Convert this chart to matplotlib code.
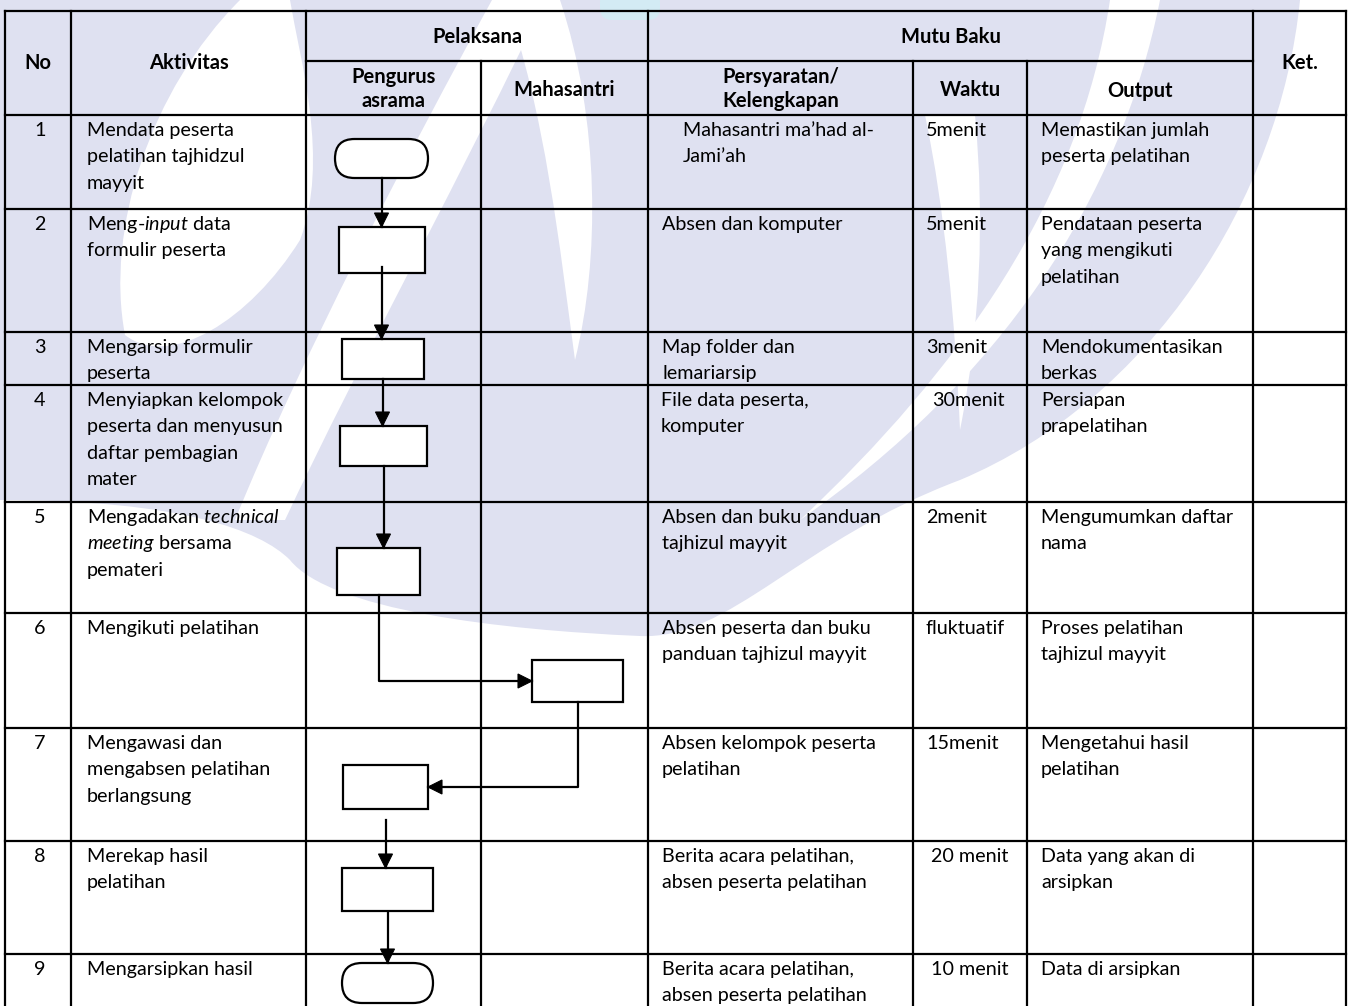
import matplotlib.pyplot as plt
from matplotlib.patches import Rectangle, FancyBboxPatch, Polygon, PathPatch
from matplotlib.path import Path

plt.rcParams['font.family'] = ['Lato', 'DejaVu Sans']
plt.rcParams['mathtext.fontset'] = 'custom'
plt.rcParams['mathtext.rm'] = 'Lato'
plt.rcParams['mathtext.it'] = 'Lato:italic'

# ---- isi tabel ----
nomor = ['1', '2', '3', '4', '5', '6', '7', '8', '9']
aktivitas = [
    'Mendata peserta\npelatihan tajhidzul\nmayyit',
    'Meng-$\\mathit{input}$ data\nformulir peserta',
    'Mengarsip formulir\npeserta',
    'Menyiapkan kelompok\npeserta dan menyusun\ndaftar pembagian\nmater',
    'Mengadakan $\\mathit{technical}$\n$\\mathit{meeting}$ bersama\npemateri',
    'Mengikuti pelatihan',
    'Mengawasi dan\nmengabsen pelatihan\nberlangsung',
    'Merekap hasil\npelatihan',
    'Mengarsipkan hasil',
]
persyaratan = [
    'Mahasantri ma\u2019had al-\nJami\u2019ah',
    'Absen dan komputer',
    'Map folder dan\nlemariarsip',
    'File data peserta,\nkomputer',
    'Absen dan buku panduan\ntajhizul mayyit',
    'Absen peserta dan buku\npanduan tajhizul mayyit',
    'Absen kelompok peserta\npelatihan',
    'Berita acara pelatihan,\nabsen peserta pelatihan',
    'Berita acara pelatihan,\nabsen peserta pelatihan',
]
waktu = ['5menit', '5menit', '3menit', '30menit', '2menit', 'fluktuatif',
         '15menit', '20 menit', '10 menit']
output = [
    'Memastikan jumlah\npeserta pelatihan',
    'Pendataan peserta\nyang mengikuti\npelatihan',
    'Mendokumentasikan\nberkas',
    'Persiapan\nprapelatihan',
    'Mengumumkan daftar\nnama',
    'Proses pelatihan\ntajhizul mayyit',
    'Mengetahui hasil\npelatihan',
    'Data yang akan di\narsipkan',
    'Data di arsipkan',
]
pelaksana = ['Pengurus', 'Pengurus', 'Pengurus', 'Pengurus', 'Pengurus',
             'Mahasantri', 'Pengurus', 'Pengurus', 'Pengurus']
simbol = ['terminator', 'proses', 'proses', 'proses', 'proses',
          'proses', 'proses', 'proses', 'terminator']

# ---- tata letak (piksel) ----
W, H = 1350, 1006
col_x = [5, 71, 306, 481, 648, 913, 1027, 1253, 1346]
head_y = [11, 61, 115]
row_y = [115, 209, 332, 385, 502, 613, 728, 841, 954, H]
lane_idx = {'Pengurus': 2, 'Mahasantri': 3}
# posisi simbol: (geser x dari tengah lajur, geser y dari atas baris, lebar, tinggi)
kotak = [(-12, 24, 93, 39), (-12, 18, 86, 46), (-11, 7, 82, 40), (-10, 41, 87, 40),
         (-15, 46, 83, 47), (13, 47, 91, 42), (-8, 37, 85, 44), (-6, 27, 91, 43),
         (-6, 9, 91, 40)]
gap_mulai = [0, 0, -6, 0, 0, 0, 0, 11, 2]
x_waktu = [926, 926, 926, 932, 926, 926, 926, 931, 931]
x_syarat = [683, 662, 662, 661, 662, 662, 662, 662, 662]
fs = 14.2
fs_head = 14.5
lw = 1.6
line_h = 26.3
ungu = '#dfe1f1'

fig = plt.figure(figsize=(W / 100, H / 100), dpi=100)
ax = fig.add_axes([0, 0, 1, 1])
ax.set_xlim(0, W)
ax.set_ylim(H, 0)
ax.axis('off')

# ---- watermark samar ----
def bentuk(pts, color, z=0):
    verts = [pts[0]]
    codes = [Path.MOVETO]
    for seg in pts[1:]:
        if len(seg) == 2 and not isinstance(seg[0], tuple):
            verts.append(seg)
            codes.append(Path.LINETO)
        else:
            verts.extend(seg)
            codes.extend([Path.CURVE4] * 3)
    verts.append(pts[0])
    codes.append(Path.CLOSEPOLY)
    ax.add_patch(PathPatch(Path(verts, codes), fc=color, ec='none', zorder=z))

bentuk([(0, 0), (1300, 0),
        ((1280, 200), (1150, 400), (960, 480)),
        ((800, 540), (730, 640), (640, 636)),
        ((500, 630), (330, 610), (290, 560)),
        ((260, 530), (180, 500), (0, 500))], ungu)
# bagian putih
bentuk([(492, 0), (545, 0),
        ((470, 160), (360, 360), (285, 520)),
        (235, 520),
        ((300, 360), (410, 150), (492, 0))], 'white', 0.1)
bentuk([(240, 0),
        ((150, 90), (105, 230), (125, 335)),
        ((170, 370), (250, 320), (300, 240)),
        ((330, 160), (300, 60), (290, 0))], 'white', 0.1)
bentuk([(505, 0), (560, 0),
        ((600, 120), (600, 260), (575, 360)),
        ((560, 250), (545, 110), (505, 0))], 'white', 0.1)
bentuk([(925, 115), (975, 115),
        ((985, 220), (980, 330), (960, 430)),
        ((955, 320), (945, 210), (925, 115))], 'white', 0.1)
bentuk([(1110, 0), (1160, 0),
        ((1120, 200), (1000, 380), (800, 520)),
        ((960, 370), (1080, 200), (1110, 0))], 'white', 0.1)
ax.add_patch(FancyBboxPatch((600, -10), 60, 30, boxstyle='round,pad=0,rounding_size=12',
                            fc='#d3ebf4', ec='none', zorder=0.2))

# ---- garis tabel ----
def garis(x0, y0, x1, y1):
    ax.plot([x0, x1], [y0, y1], color='black', lw=lw, solid_capstyle='projecting', zorder=2)

garis(col_x[0], head_y[0], col_x[-1], head_y[0])
garis(col_x[2], head_y[1], col_x[7], head_y[1])
for y in row_y[:-1]:
    garis(col_x[0], y, col_x[-1], y)
for i, x in enumerate(col_x):
    y0 = head_y[1] if i in (3, 5, 6) else head_y[0]
    garis(x, y0, x, H)

# ---- kepala tabel ----
def tengah(x0, x1, y, s):
    ax.text((x0 + x1) / 2, y, s, ha='center', va='center', fontsize=fs_head,
            fontweight='bold', linespacing=1.3, zorder=4)

tengah(col_x[0], col_x[1], 63, 'No')
tengah(col_x[1], col_x[2], 63, 'Aktivitas')
tengah(col_x[2], col_x[4], 37, 'Pelaksana')
tengah(col_x[4], col_x[7], 37, 'Mutu Baku')
tengah(col_x[7], col_x[8], 63, 'Ket.')
tengah(col_x[2], col_x[3], 89, 'Pengurus\nasrama')
tengah(col_x[3], col_x[4], 90, 'Mahasantri')
tengah(col_x[4], col_x[5], 89, 'Persyaratan/\nKelengkapan')
tengah(col_x[5], col_x[6], 90, 'Waktu')
tengah(col_x[6], col_x[7], 91, 'Output')

# ---- isi ----
def sel(x, top, s, ha='left'):
    for i, baris in enumerate(s.split('\n')):
        ax.text(x, top + 21 + i * line_h, baris, ha=ha, va='baseline',
                fontsize=fs, zorder=4)

for r in range(len(nomor)):
    top = row_y[r]
    sel(40, top, nomor[r], ha='center')
    sel(87, top, aktivitas[r])
    sel(x_syarat[r], top, persyaratan[r])
    sel(x_waktu[r], top, waktu[r])
    sel(1041, top, output[r])

# ---- diagram alir ----
bx = []
for r in range(len(nomor)):
    c = lane_idx[pelaksana[r]]
    cx = (col_x[c] + col_x[c + 1]) / 2 + kotak[r][0]
    w, h = kotak[r][2], kotak[r][3]
    y0 = row_y[r] + kotak[r][1]
    bx.append((cx, y0, w, h))
    if simbol[r] == 'terminator':
        p = FancyBboxPatch((cx - w / 2, y0), w, h,
                           boxstyle='round,pad=0,rounding_size=%g' % (h / 2),
                           fc='white', ec='black', lw=lw, zorder=3)
    else:
        p = Rectangle((cx - w / 2, y0), w, h, fc='white', ec='black', lw=lw, zorder=3)
    ax.add_patch(p)

def kepala(tx, ty, arah):
    L, hw = 14, 7
    if arah == 'bawah':
        pts = [(tx, ty), (tx - hw, ty - L), (tx + hw, ty - L)]
    elif arah == 'kanan':
        pts = [(tx, ty), (tx - L, ty - hw), (tx - L, ty + hw)]
    else:
        pts = [(tx, ty), (tx + L, ty - hw), (tx + L, ty + hw)]
    ax.add_patch(Polygon(pts, closed=True, fc='black', ec='black', lw=0.8, zorder=3.5))

for r in range(len(nomor) - 1):
    ax_, ay, aw, ah = bx[r]
    bx_, by, bw, bh = bx[r + 1]
    start = ay + ah + gap_mulai[r + 1]
    if pelaksana[r] == pelaksana[r + 1]:
        ax.plot([ax_, ax_], [start, by], color='black', lw=lw, zorder=3.4)
        kepala(ax_, by, 'bawah')
    else:
        ym = by + bh / 2
        if bx_ > ax_:
            tx = bx_ - bw / 2
            kepala(tx, ym, 'kanan')
        else:
            tx = bx_ + bw / 2
            kepala(tx, ym, 'kiri')
        ax.plot([ax_, ax_, tx], [start, ym, ym], color='black', lw=lw, zorder=3.4)

fig.savefig('out.png', dpi=100)
